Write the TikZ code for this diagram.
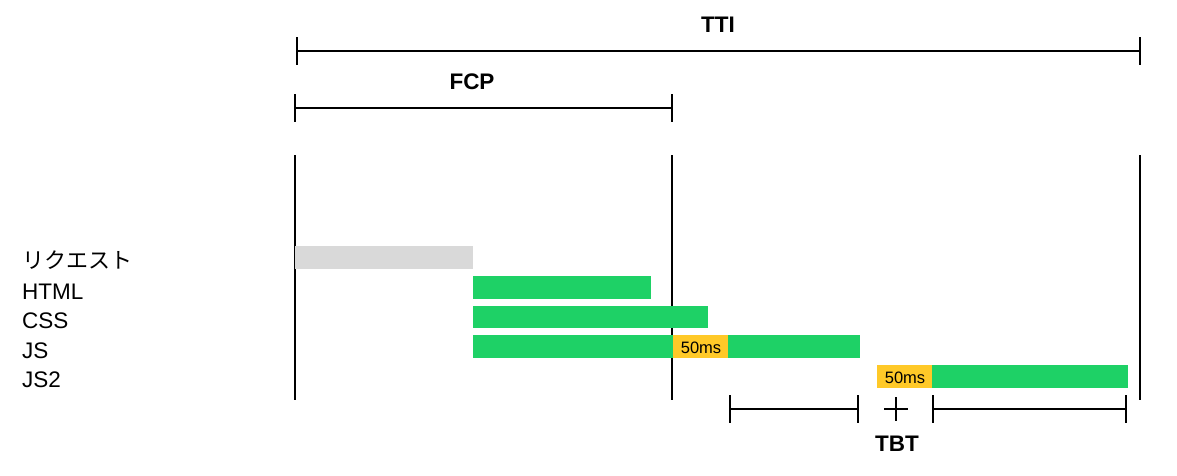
\documentclass[tikz,border=0pt]{standalone}
\usepackage{fontspec}
\setmainfont{Liberation Sans}
\newfontfamily\jpfont{Noto Sans CJK JP}

\definecolor{loadgreen}{HTML}{1ED166}
\definecolor{blockyellow}{HTML}{FFC928}
\definecolor{reqgray}{HTML}{D9D9D9}

\tikzset{
  rowlabel/.style={anchor=base west,inner sep=0pt,font=\fontsize{22.5}{26}\selectfont},
  metric/.style={anchor=base,inner sep=0pt,font=\fontsize{22.5}{26}\selectfont\bfseries},
  mslabel/.style={inner sep=0pt,font=\fontsize{16.5}{19}\selectfont},
}

\begin{document}
\begin{tikzpicture}[x=1pt,y=-1pt,line width=2.2pt]

\useasboundingbox (0,0) rectangle (1177,475) ;

\coordinate (tti_start) at (297,51) ;
\coordinate (tti_end) at (1140,51) ;
\coordinate (fcp_start) at (295,108) ;
\coordinate (fcp_end) at (672,108) ;

\draw (tti_start) -- (tti_end) ;
\draw ([yshift=14pt]tti_start) -- ([yshift=-14pt]tti_start) ;
\draw ([yshift=14pt]tti_end) -- ([yshift=-14pt]tti_end) ;
\node[metric] (tti) at (718,32) {TTI} ;

\draw (fcp_start) -- (fcp_end) ;
\draw ([yshift=14pt]fcp_start) -- ([yshift=-14pt]fcp_start) ;
\draw ([yshift=14pt]fcp_end) -- ([yshift=-14pt]fcp_end) ;
\node[metric] (fcp) at (472,89) {FCP} ;

\draw (295,155) -- (295,400) ;
\draw (672,155) -- (672,400) ;
\draw (1140,155) -- (1140,400) ;

\node[rowlabel,font=\jpfont\fontsize{22}{24}\selectfont] (req) at (21,268) {リクエスト} ;
\node[rowlabel] (html) at (21,299) {HTML} ;
\node[rowlabel] (css) at (21,328) {CSS} ;
\node[rowlabel] (js) at (21,358) {JS} ;
\node[rowlabel] (js2) at (21,387) {JS2} ;

\fill[reqgray] (295,246) rectangle (473,268.5) ;
\fill[loadgreen] (473,276) rectangle (651,298.5) ;
\fill[loadgreen] (473,305.5) rectangle (708,328) ;
\fill[loadgreen] (473,335) rectangle (673,357.5) ;
\fill[blockyellow] (673,335) rectangle (728,357.5) ;
\fill[loadgreen] (728,335) rectangle (860,357.5) ;
\fill[blockyellow] (877,365) rectangle (932,387.5) ;
\fill[loadgreen] (932,365) rectangle (1128,387.5) ;
\node[mslabel] (js_block) at (701,348) {50ms} ;
\node[mslabel] (js2_block) at (905,377.5) {50ms} ;

\coordinate (tbt1_start) at (730,409) ;
\coordinate (tbt1_end) at (858,409) ;
\coordinate (tbt2_start) at (933,409) ;
\coordinate (tbt2_end) at (1126,409) ;

\draw (tbt1_start) -- (tbt1_end) ;
\draw ([yshift=14pt]tbt1_start) -- ([yshift=-14pt]tbt1_start) ;
\draw ([yshift=14pt]tbt1_end) -- ([yshift=-14pt]tbt1_end) ;
\draw (tbt2_start) -- (tbt2_end) ;
\draw ([yshift=14pt]tbt2_start) -- ([yshift=-14pt]tbt2_start) ;
\draw ([yshift=14pt]tbt2_end) -- ([yshift=-14pt]tbt2_end) ;

\draw (884,409) -- (908,409) ;
\draw (896,397) -- (896,421) ;
\node[metric] (tbt) at (897,451) {TBT} ;

\end{tikzpicture}
\end{document}
